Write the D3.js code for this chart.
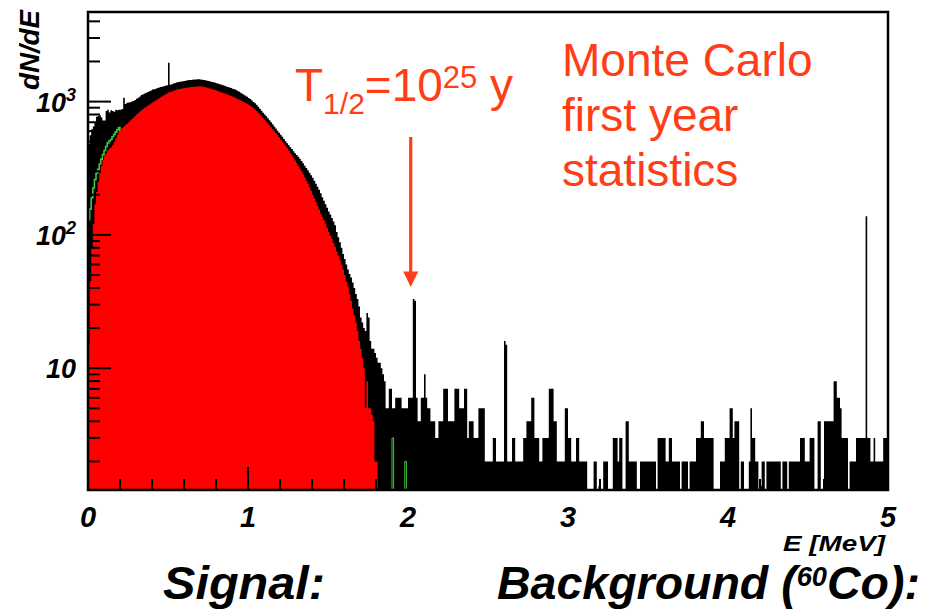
<!DOCTYPE html>
<html><head><meta charset="utf-8">
<script src="https://cdn.jsdelivr.net/npm/d3@7"></script>
<style>body{margin:0;background:#fff}</style>
</head><body><svg id="c" width="928" height="609"></svg>
<script>
// ---------- data ----------
const binStart = 0, binStep = 0.01; // MeV, histogram binning
const energyTicks = [0, 1, 2, 3, 4, 5];
const yLabels = [{v: 10, base: "10", sup: ""}, {v: 100, base: "10", sup: "2"}, {v: 1000, base: "10", sup: "3"}];
const yDomain = [1.22, 4700];
const xDomain = [0, 5];

// total spectrum (black), dN/dE per bin
const totalCounts = [
480,560,620,650,700,770,780,790,760,720,
720,850,870,830,860,850,840,870,860,870,
870,880,1070,960,980,985,990,1000,1010,1030,
1050,1070,1090,1120,1135,1150,1165,1180,1195,1210,
1230,1240,1250,1262,1275,1285,1295,1305,1315,1325,
1960,1340,1350,1365,1380,1390,1400,1410,1415,1420,
1430,1440,1445,1450,1455,1460,1462,1465,1468,1470,
1465,1460,1452,1445,1435,1425,1415,1405,1395,1385,
1375,1362,1350,1338,1325,1312,1300,1288,1275,1262,
1250,1238,1225,1205,1185,1165,1145,1125,1105,1085,
1065,1045,1020,995,970,945,915,885,855,825,
800,775,750,725,700,675,650,628,605,585,
565,545,525,505,488,470,455,440,425,410,
398,385,372,358,345,330,318,305,292,280,
268,255,242,230,218,205,192,180,170,160,
150,142,134,126,118,105,96,88,80,72,
66,60,55,51,48,44,40,36,33,29,
24,22,20,19,26,24,16,14,14,13,
12,11,11,10,9,8,5,5,7,7,
5,5,6,6,6,6,5,5,5,5,
6,6,6,33,32,6,4,4,6,6,
9,6,5,5,4,4,4,3,3,4,
4,4,7,7,7,4,4,4,4,7,
7,7,5,5,5,7,7,3,4,4,
4,3,3,3,5,5,5,5,2,2,
2,2,2,3,3,2,2,2,2,2,
16,15,2,2,2,3,3,2,2,2,
2,2,3,3,4,4,4,6,6,3,
3,3,2,2,3,3,3,3,7,7,
7,4,4,2,2,2,2,2,5,5,
3,3,2,2,2,3,3,2,2,2,
2,2,0,0,0,0,2,2,0,1.3,
0,0,2,2,2,0,0,0,3,3,
3,2,3,3,0,0,4,4,2,2,
2,2,2,0,0,2,2,2,2,2,
2,2,2,2,2,0,3,3,3,3,
3,2,2,3,3,2,2,2,2,2,
0,2,2,2,2,0,2,2,2,2,
3,3,3,4,4,3,3,3,3,3,
3,0,0,0,0,2,2,2,3,3,
3,5,5,3,4,4,4,0,2,2,
0,0,0,2,5,3,3,2,2,0,
1.3,2,2,0,2,2,2,2,2,2,
2,2,2,0,2,2,2,0,2,2,
2,2,2,2,2,3,3,3,2,2,
2,3,3,3,0,0,4,4,0,0,
4,4,4,4,4,4,8,8,6,6,
5,3,3,3,3,0,2,2,2,2,
3,3,3,3,3,3,138,3,3,2,
2,3,2,2,2,2,2,3,3,3
];

// signal spectrum (red)
const signalCounts = [
15,45,80,120,170,210,250,290,330,365,
395,410,430,445,455,470,500,530,565,600,
620,635,650,668,685,700,720,740,760,780,
800,822,840,862,880,900,918,935,952,970,
985,1005,1022,1040,1060,1080,1098,1115,1135,1150,
1170,1180,1192,1205,1218,1230,1238,1245,1252,1260,
1265,1270,1276,1280,1285,1290,1294,1296,1300,1302,
1300,1296,1290,1282,1272,1260,1252,1240,1230,1220,
1210,1198,1186,1174,1162,1150,1138,1126,1114,1102,
1090,1076,1062,1048,1034,1020,1006,992,978,964,
950,930,910,890,870,850,826,802,778,754,
730,708,686,664,642,620,600,580,560,540,
520,502,484,466,448,430,412,395,378,361,
345,330,315,300,285,270,256,242,228,214,
200,188,176,165,155,145,137,129,121,113,
105,99,93,87,81,75,70,65,60,55,
50,45,41,36,32,28,25,22,19,16,
14,12,10,5,8,5,5,4.5,4,2,2
];

// low-energy component (green outline)
const greenCounts = [130,156,190,225,260,290,310,340,370,400,430,460,490,506,520,545,567,590,615,640,610];
const greenTail = [{e: 1.90, v: 3}, {e: 1.98, v: 2}];

// ---------- drawing ----------
const svg = d3.select("#c");
const x = d3.scaleLinear().domain(xDomain).range([88, 888]);
const y = d3.scaleLog().domain(yDomain).range([490, 12]).clamp(true);
const base = y(yDomain[0]);

function histPoints(counts) {
  const pts = [];
  counts.forEach((v, i) => {
    const e0 = binStart + i * binStep, e1 = e0 + binStep;
    const vv = Math.max(v, yDomain[0]);
    pts.push([x(e0), y(vv)], [x(e1), y(vv)]);
  });
  return pts;
}
const area = d3.area().x(d => d[0]).y0(base).y1(d => d[1]);
const line = d3.line().x(d => d[0]).y(d => d[1]);

svg.append("path").attr("d", area(histPoints(totalCounts))).attr("fill", "#000");
svg.append("path").attr("d", line(histPoints(greenCounts))).attr("fill", "none")
  .attr("stroke", "#3fc43f").attr("stroke-width", 1.6);
greenTail.forEach(g => {
  const x0 = x(g.e), x1 = x(g.e + binStep), yy = y(g.v);
  svg.append("path").attr("d", `M${x0},${base}V${yy}H${x1}V${base}`)
    .attr("fill", "none").attr("stroke", "#3fc43f").attr("stroke-width", 1);
});
svg.append("path").attr("d", area(histPoints(signalCounts))).attr("fill", "#ff0000");

// ticks
const tk = svg.append("g").attr("stroke", "#000").attr("stroke-width", 2);
for (let k = 0; k <= 3; k++) {
  for (let m = 1; m <= 9; m++) {
    const v = m * Math.pow(10, k);
    if (v < yDomain[0] || v > yDomain[1]) continue;
    const len = m === 1 ? 23 : 12;
    tk.append("line").attr("x1", 88).attr("x2", 88 + len).attr("y1", y(v)).attr("y2", y(v));
  }
}
for (let e = 0; e <= 5.0001; e += 0.2) {
  const isMaj = Math.abs(e - Math.round(e)) < 1e-6;
  const len = isMaj ? 23 : 11;
  tk.append("line").attr("x1", x(e)).attr("x2", x(e)).attr("y1", 490).attr("y2", 490 - len);
}

// frame
svg.append("rect").attr("x", 88).attr("y", 12).attr("width", 800).attr("height", 478)
  .attr("fill", "none").attr("stroke", "#000").attr("stroke-width", 2.5);

const F = "'Liberation Sans', Arial, Helvetica, sans-serif";
// y labels
yLabels.forEach(l => {
  const t = svg.append("text").attr("x", 76).attr("y", y(l.v) + 10)
    .attr("text-anchor", "end").attr("font-family", F).attr("font-weight", "bold")
    .attr("font-style", "italic").attr("font-size", 27).attr("fill", "#000");
  t.append("tspan").text(l.base);
  if (l.sup) t.append("tspan").attr("dy", -11).attr("font-size", 18).text(l.sup);
});
// x labels
energyTicks.forEach(e => {
  svg.append("text").attr("x", x(e)).attr("y", 527).attr("text-anchor", "middle")
    .attr("font-family", F).attr("font-weight", "bold").attr("font-style", "italic")
    .attr("font-size", 29).attr("fill", "#000").text(e);
});
// axis titles
svg.append("text").attr("x", 885).attr("y", 551).attr("text-anchor", "end")
  .attr("font-family", F).attr("font-weight", "bold").attr("font-style", "italic")
  .attr("font-size", 22).attr("textLength", 102).attr("lengthAdjust", "spacingAndGlyphs")
  .text("E [MeV]");
svg.append("text").attr("transform", "translate(39,10) rotate(-90)").attr("text-anchor", "end")
  .attr("font-family", F).attr("font-weight", "bold").attr("font-style", "italic")
  .attr("font-size", 27).attr("textLength", 80).attr("lengthAdjust", "spacingAndGlyphs")
  .text("dN/dE");

// annotations
const OR = "#ff3d17";
["Monte Carlo", "first year", "statistics"].forEach((s, i) => {
  svg.append("text").attr("x", 562).attr("y", 76 + i * 55).attr("font-family", F)
    .attr("font-size", 46).attr("fill", OR).text(s);
});
const th = svg.append("text").attr("x", 295).attr("y", 101).attr("font-family", F)
  .attr("font-size", 46).attr("fill", OR);
th.append("tspan").text("T");
th.append("tspan").attr("dy", 13).attr("font-size", 30).text("1/2");
th.append("tspan").attr("dy", -13).text("=10");
th.append("tspan").attr("dy", -13).attr("font-size", 31).text("25");
th.append("tspan").attr("dy", 13).text(" y");

const ax = x(2.017);
svg.append("line").attr("x1", ax).attr("x2", ax).attr("y1", 137).attr("y2", 274)
  .attr("stroke", OR).attr("stroke-width", 3.2);
svg.append("path").attr("d", `M${ax - 7.5},271.5L${ax + 7.5},271.5L${ax},287Z`).attr("fill", OR);

// bottom captions
svg.append("text").attr("x", 163).attr("y", 599).attr("font-family", F).attr("font-weight", "bold")
  .attr("font-style", "italic").attr("font-size", 46).attr("fill", "#000")
  .attr("textLength", 162).attr("lengthAdjust", "spacingAndGlyphs").text("Signal:");
const bg = svg.append("text").attr("x", 497).attr("y", 599).attr("font-family", F).attr("font-weight", "bold")
  .attr("font-style", "italic").attr("font-size", 46).attr("fill", "#000")
  .attr("textLength", 423).attr("lengthAdjust", "spacingAndGlyphs");
bg.append("tspan").text("Background (");
bg.append("tspan").attr("dy", -13).attr("font-size", 27).text("60");
bg.append("tspan").attr("dy", 13).text("Co):");
</script></body></html>
